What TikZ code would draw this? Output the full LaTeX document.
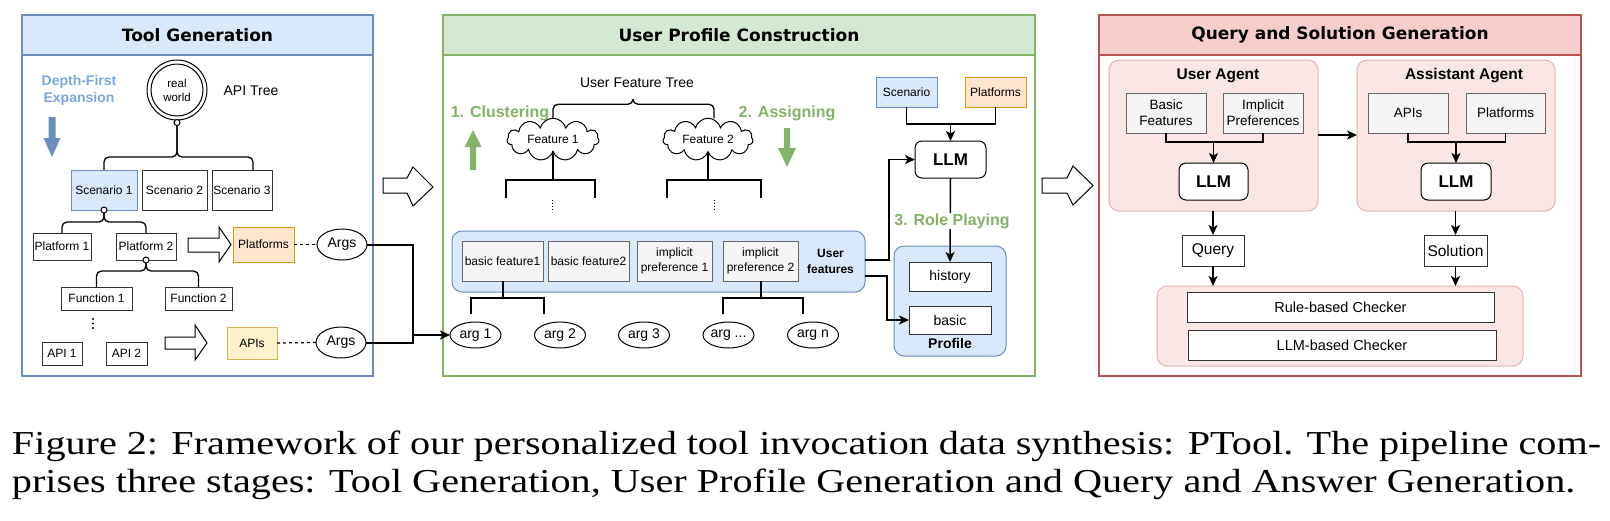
\documentclass[tikz,border=0pt]{standalone}
\usepackage{fontspec}
\setmainfont{Liberation Sans}
\newfontfamily\titlefont{DejaVu Sans}
\newfontfamily\capfont[FakeStretch=1.2]{Liberation Serif}
\usetikzlibrary{arrows.meta,shapes.geometric,shapes.symbols}
\definecolor{bluefill}{HTML}{DAE8FC}
\definecolor{bluedraw}{HTML}{6C8EBF}
\definecolor{greenfill}{HTML}{D5E8D4}
\definecolor{greendraw}{HTML}{82B366}
\definecolor{redfill}{HTML}{F8CECC}
\definecolor{reddraw}{HTML}{B85450}
\definecolor{pinkfill}{HTML}{FAE6E5}
\definecolor{pinkdraw}{HTML}{E3B3B0}
\definecolor{grayfill}{HTML}{F5F5F5}
\definecolor{graydraw}{HTML}{666666}
\definecolor{orangefill}{HTML}{FFE6CC}
\definecolor{orangedraw}{HTML}{D79B00}
\definecolor{yellowfill}{HTML}{FFF2CC}
\definecolor{yellowdraw}{HTML}{D6B656}
\definecolor{lbtext}{HTML}{7EA6E0}
\newcommand{\myfs}[2]{\fontsize{#1}{#2}\selectfont}
\begin{document}
\begin{tikzpicture}[x=1pt,y=-1pt,
  every node/.style={inner sep=0pt, outer sep=0pt, align=center},
  tbox/.style={draw=black!80, fill=white, line width=1, font=\myfs{12}{14}},
  bluebox/.style={tbox, draw=bluedraw, fill=bluefill},
  orbox/.style={tbox, draw=orangedraw, fill=orangefill},
  yelbox/.style={tbox, draw=yellowdraw, fill=yellowfill},
  gbox/.style={draw=graydraw, fill=grayfill, line width=1, font=\myfs{12}{14.5}},
  cont/.style={rounded corners=10, line width=1},
  llmbox/.style={draw=black, fill=white, rounded corners=7, line width=1, font=\bfseries\myfs{17}{20}},
  ell/.style={ellipse, draw=black, fill=white, line width=1},
  dotc/.style={circle, draw=black, fill=white, line width=1, minimum size=6},
  ln/.style={line width=1.3},
  tk/.style={line width=2},
  arr/.style={line width=1.5, -{Stealth[length=10,width=9,inset=2.5]}},
  ttl/.style={font=\titlefont\bfseries\myfs{17}{20}},
  gtext/.style={text=greendraw, font=\bfseries\myfs{16}{19}},
  hollow/.style={draw=black, fill=white, line width=1, line join=miter},
  dsh/.style={line width=1.2, dash pattern=on 3pt off 3pt},
  dotline/.style={line width=0.9, dash pattern=on 1pt off 2pt},
]
\useasboundingbox (0,0) rectangle (1610,520);

% ================= Panel 1 =================
\node[draw=bluedraw, fill=white, line width=1.2, minimum width=351, minimum height=361] (P1) at (197.5,195.5) {};
\node[draw=bluedraw, fill=bluefill, line width=1.2, minimum width=351, minimum height=40, ttl] (H1) at (197.5,35) {Tool Generation};

\node[text=lbtext, font=\bfseries\myfs{14}{17}] (dfe) at (79,90.5) {Depth-First\\Expansion};
\fill[bluedraw] (48.5,117) -- (55.5,117) -- (55.5,138) -- (60.5,138) -- (52,157) -- (43.5,138) -- (48.5,138) -- cycle;

\node[circle, draw, line width=1, minimum size=60] (rwo) at (177,90) {};
\node[circle, draw, line width=1, minimum size=52, font=\myfs{11.5}{14}] (rw) at (177,90) {real\\world};
\node[font=\myfs{14}{16}] (apit) at (251,91) {API Tree};

\node[bluebox, minimum width=66, minimum height=40] (s1) at (104,190) {Scenario 1};
\node[tbox, minimum width=65, minimum height=40] (s2) at (174.5,190) {Scenario 2};
\node[tbox, minimum width=60, minimum height=40] (s3) at (242,190) {Scenario 3};
\node[dotc] (c0) at (177,122.5) {};
\draw[ln, rounded corners=5] (c0.south) |- ([yshift=13]s1.north) -- (s1.north);
\draw[ln, rounded corners=5] (c0.south) |- ([xshift=11,yshift=13]s3.north) -- ([xshift=11]s3.north);

\node[tbox, minimum width=58, minimum height=27] (p1) at (62,246.5) {Platform 1};
\node[tbox, minimum width=60, minimum height=27] (p2) at (146,246.5) {Platform 2};
\node[dotc] (c1) at (s1.south) {};
\draw[ln, rounded corners=5] (c1.south) |- ([yshift=11]p1.north) -- (p1.north);
\draw[ln, rounded corners=5] (c1.south) |- ([yshift=11]p2.north) -- (p2.north);

\node[tbox, minimum width=71, minimum height=23] (fn1) at (96.5,298.5) {Function 1};
\node[tbox, minimum width=67, minimum height=23] (fn2) at (198.5,298.5) {Function 2};
\node[dotc] (c2) at (p2.south) {};
\draw[ln, rounded corners=5] (c2.south) |- ([yshift=16]fn1.north) -- (fn1.north);
\draw[ln, rounded corners=5] (c2.south) |- ([yshift=16]fn2.north) -- (fn2.north);

\fill (93,319) circle (1.1) (93,323.5) circle (1.1) (93,328) circle (1.1);
\node[tbox, minimum width=40, minimum height=23] (api1) at (62,353.5) {API 1};
\node[tbox, minimum width=41, minimum height=23] (api2) at (126.5,353.5) {API 2};

\draw[hollow] (188,238) -- (219,238) -- (219,227) -- (231,244.5) -- (219,262) -- (219,252) -- (188,252) -- cycle;
\draw[hollow] (165,337) -- (195,337) -- (195,325) -- (207,343) -- (195,360) -- (195,349) -- (165,349) -- cycle;

\node[orbox, minimum width=61, minimum height=35] (pfs) at (263.5,244.5) {Platforms};
\node[ell, minimum width=50, minimum height=31, font=\myfs{14}{16}] (args1) at (342,244.5) {Args};
\node[yelbox, minimum width=50, minimum height=32] (apis) at (252,343) {APIs};
\node[ell, minimum width=50, minimum height=31, font=\myfs{14}{16}] (args2) at (341,342.5) {Args};
\draw[dsh] (pfs.east) -- (args1.west);
\draw[dsh] (apis.east) -- (args2.west);

% inter-panel arrow 1
\draw[hollow] (383,178) -- (407,178) -- (413,167) -- (433,187) -- (413,206) -- (407,193) -- (383,193) -- cycle;

% ================= Panel 2 =================
\node[draw=greendraw, fill=white, line width=1.2, minimum width=592, minimum height=361] (P2) at (739,195.5) {};
\node[draw=greendraw, fill=greenfill, line width=1.2, minimum width=592, minimum height=40, ttl] (H2) at (739,35) {User Profile Construction};

\node[font=\myfs{14}{16}] (uftree) at (637,83) {User Feature Tree};
\node[gtext] (clu) at (500,113) {1. Clustering};
\fill[greendraw] (470,170) -- (476,170) -- (476,147) -- (481.5,147) -- (473,130) -- (464.5,147) -- (470,147) -- cycle;
\node[gtext] (asg) at (787,113) {2. Assigning};
\fill[greendraw] (784,128) -- (790,128) -- (790,148) -- (796,148) -- (787,167) -- (778,148) -- (784,148) -- cycle;

\node[cloud, cloud puffs=11, aspect=2.6, draw, line width=1, fill=white, minimum width=92, minimum height=37, font=\myfs{12}{14}] (f1) at (553,139.5) {Feature 1};
\node[cloud, cloud puffs=11, aspect=2.6, draw, line width=1, fill=white, minimum width=90, minimum height=37, font=\myfs{12}{14}] (f2) at (708,139.5) {Feature 2};
\coordinate (bt) at (633,99);
\draw[ln, rounded corners=5] (bt) |- ([yshift=14]f1.north) -- (f1.north);
\draw[ln, rounded corners=5] (bt) |- ([xshift=6,yshift=14]f2.north) -- ([xshift=6]f2.north);

\coordinate (f1a) at (506,198); \coordinate (f1b) at (506,180);
\coordinate (f1c) at (595,180); \coordinate (f1d) at (595,198);
\draw[ln] (f1a) -- (f1b) -- (f1c) -- (f1d);
\draw[ln] (f1.south) -- (f1.south |- f1b);
\coordinate (f2a) at (667,198); \coordinate (f2b) at (667,180);
\coordinate (f2c) at (761,180); \coordinate (f2d) at (761,198);
\draw[ln] (f2a) -- (f2b) -- (f2c) -- (f2d);
\draw[ln] (f2.south) -- (f2.south |- f2b);
\draw[dotline] (552,200) -- (552,212);
\draw[dotline] (714,200) -- (714,212);

\node[cont, draw=bluedraw, fill=bluefill, minimum width=413, minimum height=61] (uf) at (658.5,261.5) {};
\node[gbox, minimum width=81, minimum height=40] (bf1) at (502.5,261) {basic feature1};
\node[gbox, minimum width=81, minimum height=40] (bf2) at (588.5,261) {basic feature2};
\node[gbox, minimum width=75, minimum height=40] (ip1) at (674.5,261) {implicit\\preference 1};
\node[gbox, minimum width=75, minimum height=40] (ip2) at (760.5,261) {implicit\\preference 2};
\node[font=\bfseries\myfs{12}{16}] (uflab) at (830.5,261) {User\\features};

\coordinate (t1a) at (471,314); \coordinate (t1b) at (471,298);
\coordinate (t1c) at (544,298); \coordinate (t1d) at (544,314);
\draw[tk] (t1a) -- (t1b) -- (t1c) -- (t1d);
\draw[tk] (bf1.south) -- (bf1.south |- t1b);
\coordinate (t2a) at (723,314); \coordinate (t2b) at (723,298);
\coordinate (t2c) at (803,298); \coordinate (t2d) at (803,314);
\draw[tk] (t2a) -- (t2b) -- (t2c) -- (t2d);
\draw[tk] (ip2.south) -- (ip2.south |- t2b);

\node[ell, minimum width=51, minimum height=26, font=\myfs{14}{16}] (arg1) at (475.5,335) {arg 1};
\node[ell, minimum width=51, minimum height=26, font=\myfs{14}{16}] (arg2) at (560,335) {arg 2};
\node[ell, minimum width=51, minimum height=26, font=\myfs{14}{16}] (arg3) at (644,335) {arg 3};
\node[ell, minimum width=51, minimum height=26, font=\myfs{14}{16}] (argd) at (728.5,335) {arg ...};
\node[ell, minimum width=51, minimum height=26, font=\myfs{14}{16}] (argn) at (813,335) {arg n};

% Args -> arg 1
\coordinate (jn) at (413,335);
\draw[tk] (args1.east) -| (jn);
\draw[tk] (args2.east) -| (jn);
\draw[tk, -{Stealth[length=10,width=9,inset=2.5]}] (jn) -- (arg1.west);

% right part of panel 2
\node[bluebox, minimum width=61, minimum height=30] (sc) at (906.5,92) {Scenario};
\node[orbox, minimum width=61, minimum height=30] (pf2) at (995.5,92) {Platforms};
\node[llmbox, minimum width=71, minimum height=37] (llm) at (950.5,159.5) {LLM};
\draw[line width=1.5] (sc.south) |- (pf2.south |- 0,124) -- (pf2.south);
\draw[arr] (llm.north |- 0,124) -- (llm.north);

\node[cont, draw=bluedraw, fill=bluefill, minimum width=112, minimum height=110] (prof) at (950,301) {};
\node[tbox, minimum width=82, minimum height=29, font=\myfs{14}{16}] (hist) at (950,276.5) {history};
\node[tbox, minimum width=82, minimum height=28, font=\myfs{14}{16}] (basic) at (950,320) {basic};
\node[font=\bfseries\myfs{14}{16}] (proft) at (950,343) {Profile};
\draw[arr] (llm.south) -- (hist.north);
\node[gtext, fill=white, inner sep=1] (rp) at (952,221) {3. Role Playing};
\draw[arr] (uf.east |- 0,260) -- ++(24,0) |- (llm.west);
\draw[arr] (uf.east |- 0,276) -- ++(22,0) |- (basic.west);

% inter-panel arrow 2
\draw[hollow] (1042,178) -- (1067,178) -- (1073,166) -- (1093,185.5) -- (1073,205) -- (1067,193) -- (1042,193) -- cycle;

% ================= Panel 3 =================
\node[draw=reddraw, fill=white, line width=1.2, minimum width=482, minimum height=361] (P3) at (1340,195.5) {};
\node[draw=reddraw, fill=redfill, line width=1.2, minimum width=482, minimum height=40, ttl] (H3) at (1340,35) {Query and Solution Generation};

\node[cont, draw=pinkdraw, fill=pinkfill, minimum width=209, minimum height=151] (ua) at (1213.5,135.5) {};
\node[cont, draw=pinkdraw, fill=pinkfill, minimum width=198, minimum height=151] (aa) at (1456,135.5) {};
\node[font=\bfseries\myfs{15.5}{18}] (uat) at (1218,76) {User Agent};
\node[font=\bfseries\myfs{15.5}{18}] (aat) at (1464,76) {Assistant Agent};

\node[gbox, font=\myfs{13.5}{16}, minimum width=80, minimum height=40] (bfs) at (1166,113) {Basic\\Features};
\node[gbox, font=\myfs{13.5}{16}, minimum width=80, minimum height=40] (ipf) at (1263,113) {Implicit\\Preferences};
\node[gbox, font=\myfs{13.5}{16}, minimum width=80, minimum height=40] (apis3) at (1408,113) {APIs};
\node[gbox, font=\myfs{13.5}{16}, minimum width=79, minimum height=40] (pf3) at (1505.5,113) {Platforms};

\node[llmbox, minimum width=69, minimum height=37] (llmA) at (1213.5,181.5) {LLM};
\node[llmbox, minimum width=70, minimum height=37] (llmB) at (1456,181.5) {LLM};
\draw[line width=1.5] (bfs.south) |- (ipf.south |- 0,142) -- (ipf.south);
\draw[arr] (llmA.north |- 0,142) -- (llmA.north);
\draw[line width=1.5] (apis3.south) |- (pf3.south |- 0,142) -- (pf3.south);
\draw[arr] (llmB.north |- 0,142) -- (llmB.north);
\draw[arr] (ua.east |- 0,135) -- (aa.west |- 0,135);

\node[tbox, font=\myfs{15.5}{18}, minimum width=62, minimum height=31] (qry) at (1213,250.5) {Query};
\node[tbox, font=\myfs{15.5}{18}, minimum width=63, minimum height=31] (sol) at (1455.5,250.5) {Solution};
\node[cont, draw=pinkdraw, fill=pinkfill, minimum width=366, minimum height=80] (chk) at (1340,326) {};
\node[tbox, font=\myfs{14.5}{17}, minimum width=307, minimum height=30] (rbc) at (1340.5,307) {Rule-based Checker};
\node[tbox, font=\myfs{14.5}{17}, minimum width=308, minimum height=30] (lbc) at (1342,345) {LLM-based Checker};
\draw[arr] (qry.north |- ua.south) -- (qry.north);
\draw[arr] (qry.south) -- (qry.south |- chk.north);
\draw[arr] (sol.north |- aa.south) -- (sol.north);
\draw[arr] (sol.south) -- (sol.south |- chk.north);

% ================= Caption =================
\node[anchor=base west, font=\capfont\myfs{33.5}{38}] (cap1) at (12,454) {\makebox[1589pt][s]{Figure 2: Framework of our personalized tool invocation data synthesis: PTool. The pipeline com-}};
\node[anchor=base west, font=\capfont\myfs{33.5}{38}] (cap2) at (12,492) {prises three stages: Tool Generation, User Profile Generation and Query and Answer Generation.};
\end{tikzpicture}
\end{document}
